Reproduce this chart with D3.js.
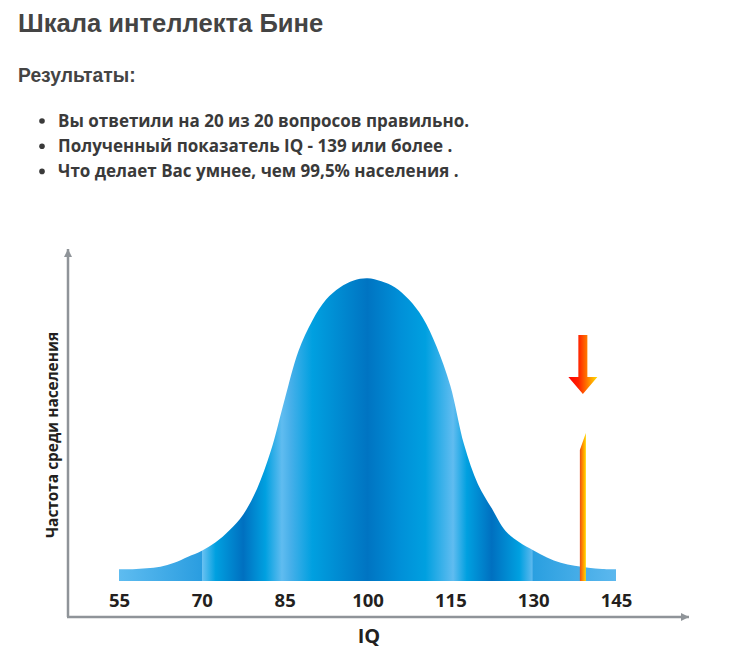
<!DOCTYPE html>
<html>
<head>
<meta charset="utf-8">
<script src="https://cdn.jsdelivr.net/npm/d3@7"></script>
<style>
  body { margin: 0; background: #fff; }
  .title { font-family: "Liberation Sans", Arial, sans-serif; font-weight: bold; fill: #444; }
  .bullet { font-family: "Open Sans", sans-serif; font-weight: bold; font-size: 17px; fill: #3a3a3a; }
  .tick text { font-family: "Open Sans", sans-serif; font-weight: bold; font-size: 18.5px; fill: #231f20; }
</style>
</head>
<body>
<svg id="chart" width="746" height="669"></svg>
<script>
var titleText = "Шкала интеллекта Бине";
var subTitle = "Результаты:";
var results = [
  "Вы ответили на 20 из 20 вопросов правильно.",
  "Полученный показатель IQ - 139 или более .",
  "Что делает Вас умнее, чем 99,5% населения ."
];

// curve: IQ vs relative frequency (peak = 100)
var iqValues = [55, 57.5, 60, 62.5, 65, 67.5, 70, 72.5, 75, 77.5, 80, 82.5, 85, 87.5, 90, 92.5, 95, 97.5, 100,
  102.5, 105, 107.5, 110, 112.5, 115, 117.5, 120, 122.5, 125, 127.5, 130, 132.5, 135, 137.5, 140, 142.5, 145];
var freqValues = [3.9, 3.9, 4.2, 4.7, 6.0, 8.0, 10.0, 12.8, 16.8, 22.0, 30.5, 43.0, 60.0, 76.0, 86.0, 93.0, 97.0, 99.3, 100,
  99.0, 97.0, 93.0, 87.0, 77.5, 64.5, 45.0, 32.0, 24.0, 16.5, 12.8, 10.2, 7.8, 6.0, 5.0, 4.4, 4.0, 3.9];
var tickLabels = [55, 70, 85, 100, 115, 130, 145];
var yourIQ = 139;

// shading of the bands (IQ position, colour)
var bandStops = [
  [55, "#5ebcf0"], [70, "#2a9de0"], [70, "#6cc2f2"], [72.5, "#00a0e0"], [77.5, "#0070c0"],
  [81.5, "#00a0e0"], [84.5, "#60bcf0"], [86, "#48b0ea"], [90, "#00a0e0"], [100, "#0074c2"],
  [106, "#0090d8"], [110.5, "#00a0e0"], [115.5, "#60bcf0"], [118, "#00a0e0"], [122.5, "#0070c0"],
  [127.5, "#00a0e0"], [129.8, "#5cb8ee"], [130, "#2a9fe0"], [145, "#5cb8ee"]
];

var svg = d3.select("#chart");
var defs = svg.append("defs");

svg.append("text").attr("class", "title")
  .attr("x", 18).attr("y", 32).style("font-size", "25.6px").text(titleText);
svg.append("text").attr("class", "title")
  .attr("x", 18).attr("y", 82).style("font-size", "19.3px").text(subTitle);

results.forEach(function(t, i) {
  var by = 126.5 + i * 25.2;
  svg.append("circle").attr("cx", 42).attr("cy", by - 5.5).attr("r", 2.8).attr("fill", "#3a3a3a");
  svg.append("text").attr("class", "bullet").attr("x", 58).attr("y", by).text(t);
});

var x = d3.scaleLinear().domain([55, 145]).range([119, 616]);
var y = d3.scaleLinear().domain([0, 100]).range([581, 278.3]);

var data = iqValues.map(function(v, i) { return {iq: v, f: freqValues[i]}; });

// bands gradient
var grad = defs.append("linearGradient").attr("id", "bands")
  .attr("gradientUnits", "userSpaceOnUse")
  .attr("x1", x(55)).attr("x2", x(145)).attr("y1", 0).attr("y2", 0);
bandStops.forEach(function(s) {
  grad.append("stop").attr("offset", (s[0] - 55) / 90).attr("stop-color", s[1]);
});

var mgrad = defs.append("linearGradient").attr("id", "marker").attr("x1", 0).attr("x2", 1).attr("y1", 0).attr("y2", 0);
mgrad.append("stop").attr("offset", 0).attr("stop-color", "#e84e1c");
mgrad.append("stop").attr("offset", 0.45).attr("stop-color", "#ff8a00");
mgrad.append("stop").attr("offset", 1).attr("stop-color", "#ffd800");

var agrad = defs.append("linearGradient").attr("id", "arrow").attr("x1", 0).attr("x2", 1).attr("y1", 0).attr("y2", 0);
agrad.append("stop").attr("offset", 0).attr("stop-color", "#ff0000");
agrad.append("stop").attr("offset", 0.35).attr("stop-color", "#ff2200");
agrad.append("stop").attr("offset", 1).attr("stop-color", "#ffe000");

var area = d3.area()
  .x(function(d) { return x(d.iq); })
  .y0(y(0))
  .y1(function(d) { return y(d.f); })
  .curve(d3.curveCatmullRom.alpha(0.5));

svg.append("path").datum(data).attr("d", area).attr("fill", "url(#bands)");

// marker bar at your IQ
var mx = x(yourIQ);
svg.append("path")
  .attr("d", "M" + (mx - 3) + "," + y(0) + "V450L" + (mx + 3) + ",433V" + y(0) + "Z")
  .attr("fill", "url(#marker)");

// arrow
svg.append("path")
  .attr("d", "M" + (mx - 4.5) + ",335H" + (mx + 4.5) + "V377H" + (mx + 14.5) + "L" + mx + ",394L" + (mx - 14.5) + ",377H" + (mx - 4.5) + "Z")
  .attr("fill", "url(#arrow)");

// axes
var axisColor = "#8f9499";
defs.append("marker").attr("id", "head").attr("viewBox", "0 0 10 10")
  .attr("refX", 10).attr("refY", 5).attr("markerWidth", 12).attr("markerHeight", 8)
  .attr("markerUnits", "userSpaceOnUse").attr("orient", "auto")
  .append("path").attr("d", "M0,0L10,5L0,10Z").attr("fill", axisColor);

svg.append("path").attr("d", "M68,617V249").attr("stroke", axisColor).attr("stroke-width", 2.5)
  .attr("fill", "none").attr("marker-end", "url(#head)");
svg.append("path").attr("d", "M67,617H689").attr("stroke", axisColor).attr("stroke-width", 2.5)
  .attr("fill", "none").attr("marker-end", "url(#head)");

var xAxis = d3.axisTop(x).tickValues(tickLabels).tickSize(0).tickPadding(10.5);
var gx = svg.append("g").attr("transform", "translate(0,617)").call(xAxis);
gx.select(".domain").remove();

svg.append("text").attr("x", 369).attr("y", 643).attr("text-anchor", "middle")
  .style("font-family", "Open Sans, sans-serif").style("font-weight", "bold").style("font-size", "20px")
  .style("fill", "#231f20").text("IQ");

svg.append("text").attr("transform", "translate(57.5,435) rotate(-90)").attr("text-anchor", "middle")
  .style("font-family", "Open Sans, sans-serif").style("font-weight", "bold").style("font-size", "15.4px")
  .style("fill", "#231f20").text("Частота среди населения");
</script>
</body>
</html>
